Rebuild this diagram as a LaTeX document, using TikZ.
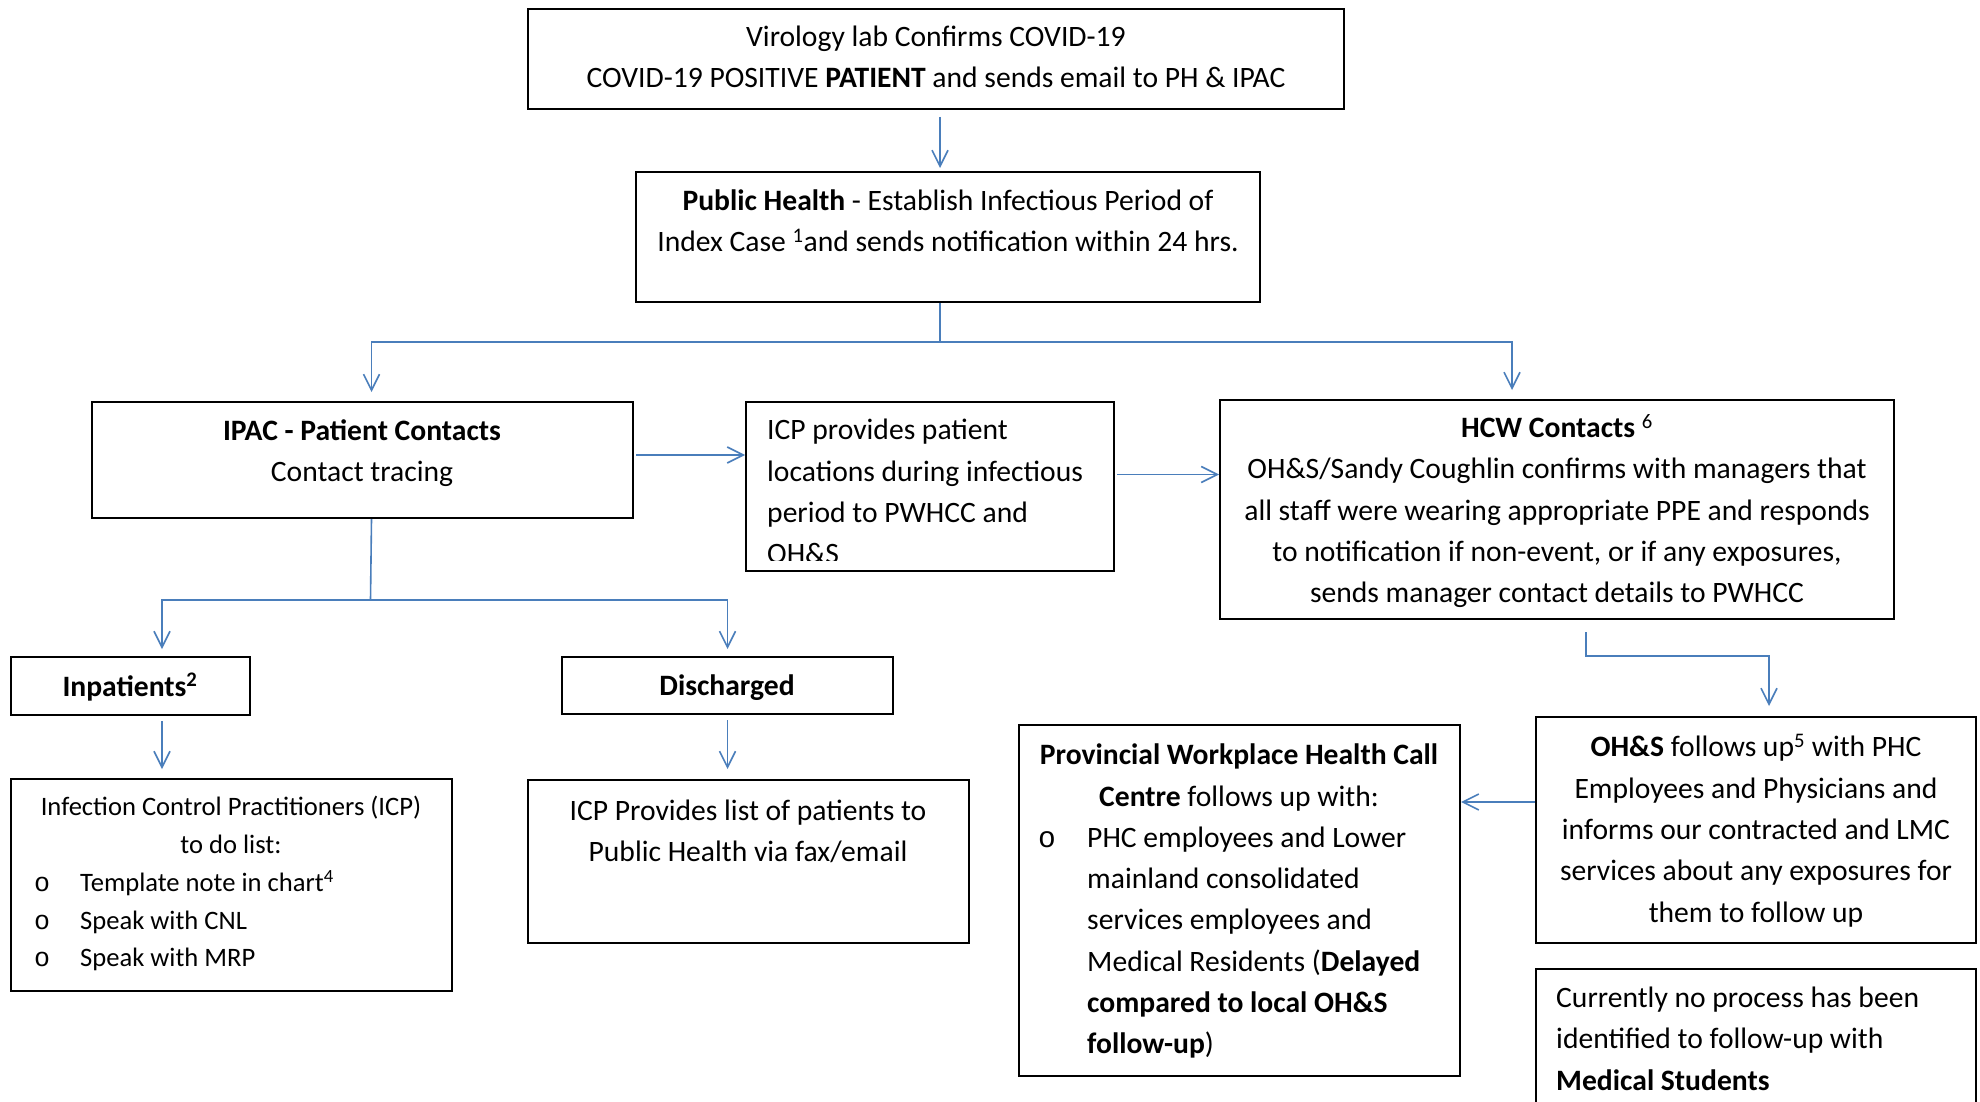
\documentclass[tikz,border=0pt]{standalone}
\usepackage{fontspec}
\setmainfont{Carlito}
\newfontfamily\bulletfont{Liberation Mono}
\usetikzlibrary{arrows.meta}
\definecolor{wirecol}{HTML}{4A7EBB}
\begin{document}
\begin{tikzpicture}[x=1pt,y=-1pt,
  box/.style={draw=black, line width=2pt, inner sep=0pt, rectangle},
  txt/.style={inner sep=0pt, font=\fontsize{29.6}{41.3}\selectfont},
  smalltxt/.style={inner sep=0pt, font=\fontsize{26.6}{37.6}\selectfont},
  wire/.style={draw=wirecol, line width=1.6pt},
  arr/.style={wire, -{Straight Barb[length=16pt, width=16pt, line width=1.6pt]}}]
\useasboundingbox (0,0) rectangle (1980,1102);
\fill[white] (0,0) rectangle (1980,1102);

% boxes
\node[box, minimum width=816pt, minimum height=100pt] (b1) at (936,59) {};
\node[box, minimum width=624pt, minimum height=130pt] (b2) at (948,237) {};
\node[box, minimum width=541pt, minimum height=116pt] (ipac) at (362.5,460) {};
\node[box, minimum width=368pt, minimum height=169pt] (icp) at (930,486.5) {};
\node[box, minimum width=674pt, minimum height=219pt] (hcw) at (1557,509.5) {};
\node[box, minimum width=239pt, minimum height=58pt] (inp) at (130.5,686) {};
\node[box, minimum width=331pt, minimum height=57pt] (dis) at (727.5,685.5) {};
\node[box, minimum width=441pt, minimum height=212pt] (list) at (231.5,885) {};
\node[box, minimum width=441pt, minimum height=163pt] (prov) at (748.5,861.5) {};
\node[box, minimum width=440pt, minimum height=226pt] (ohs) at (1756,830) {};
\node[box, minimum width=441pt, minimum height=351pt] (pw) at (1239.5,900.5) {};
\node[box, minimum width=440pt, minimum height=161pt] (cur) at (1756,1049.5) {};

% texts (anchor = baseline of last line)
\node[txt, align=center, anchor=base] (t1) at (936,87.5)
  {Virology lab Confirms COVID-19\\COVID-19 POSITIVE \textbf{PATIENT} and sends email to PH \& IPAC};
\node[txt, align=center, anchor=base] (t2) at (948,251.7)
  {\textbf{Public Health} - Establish Infectious Period of\\Index Case \textsuperscript{1}and sends notification within 24 hrs.};
\node[txt, align=center, anchor=base] (t3) at (362,481.5)
  {\textbf{IPAC - Patient Contacts}\\Contact tracing};
\begin{scope}
  \clip (747,403) rectangle (1113,560);
  \node[txt, align=left, anchor=base west] (t4) at (767,563.6)
    {ICP provides patient\\locations during infectious\\period to PWHCC and\\OH\&S};
\end{scope}
\node[txt, align=center, anchor=base] (t5) at (1557,602.8)
  {\textbf{HCW Contacts} \textsuperscript{6}\\OH\&S/Sandy Coughlin confirms with managers that\\all staff were wearing appropriate PPE and responds\\to notification if non-event, or if any exposures,\\sends manager contact details to PWHCC};
\node[txt, anchor=base] (t6) at (130,696) {\textbf{Inpatients\textsuperscript{2}}};
\node[txt, anchor=base] (t7) at (727,695) {\textbf{Discharged}};
\node[smalltxt, align=center, anchor=base] (t8) at (231,853)
  {Infection Control Practitioners (ICP)\\to do list:};
\node[smalltxt, align=left, anchor=base west] (t8b) at (34,966.7)
  {\makebox[46pt][l]{\bulletfont o}Template note in chart\textsuperscript{4}\\
   \makebox[46pt][l]{\bulletfont o}Speak with CNL\\
   \makebox[46pt][l]{\bulletfont o}Speak with MRP};
\node[txt, align=center, anchor=base] (t9) at (748,861.6)
  {ICP Provides list of patients to\\Public Health via fax/email};
\node[txt, align=center, anchor=base] (t10) at (1239,806)
  {\textbf{Provincial Workplace Health Call}\\\textbf{Centre} follows up with:};
\node[txt, anchor=base] (t10o) at (1047,847.7) {\bulletfont o};
\node[txt, align=left, anchor=base west] (t10b) at (1087,1053.6)
  {PHC employees and Lower\\mainland consolidated\\services employees and\\Medical Residents (\textbf{Delayed}\\\textbf{compared to local OH\&S}\\\textbf{follow-up})};
\node[txt, align=center, anchor=base] (t11) at (1756,922)
  {\textbf{OH\&S} follows up\textsuperscript{5} with PHC\\Employees and Physicians and\\informs our contracted and LMC\\services about any exposures for\\them to follow up};
\node[txt, align=left, anchor=base west] (t12) at (1556,1090)
  {Currently no process has been\\identified to follow-up with\\\textbf{Medical Students}};

% connectors
\path ([xshift=4pt]b1.south) coordinate (a1);
\draw[arr] ([yshift=-7pt]a1) -- ([yshift=3pt]a1 |- b2.north);
\draw[wire] ([xshift=-8pt]b2.south) -- ++(0,39) coordinate (j1);
\draw[arr] (j1) -| ([xshift=9pt,yshift=9pt]ipac.north);
\draw[arr] (j1) -| ([xshift=-45pt,yshift=9pt]hcw.north);
\draw[arr] ([xshift=2pt,yshift=5pt]ipac.east) -- ([yshift=5pt]ipac.east -| icp.west);
\draw[arr] ([xshift=2pt,yshift=12pt]icp.east) -- ([yshift=12pt]icp.east -| hcw.west);
\draw[wire] ([xshift=9pt]ipac.south) -- ++(-1,81) coordinate (j2);
\draw[arr] (j2) -| ([xshift=31.5pt,yshift=7pt]inp.north);
\draw[arr] (j2) -| ([yshift=7pt]dis.north);
\path ([xshift=31.5pt]inp.south) coordinate (ix);
\draw[arr] ([yshift=-5pt]ix) -- ([yshift=9pt]ix |- list.north);
\draw[arr] ([yshift=-5pt]dis.south) -- ([yshift=10pt]dis.south |- prov.north);
\draw[arr] ([xshift=29pt,yshift=-12pt]hcw.south) -- ++(0,24) -| ([xshift=13pt,yshift=10pt]ohs.north);
\draw[arr] ([yshift=28pt]ohs.west) -- ([yshift=28pt]ohs.west -| pw.east);
\end{tikzpicture}
\end{document}
